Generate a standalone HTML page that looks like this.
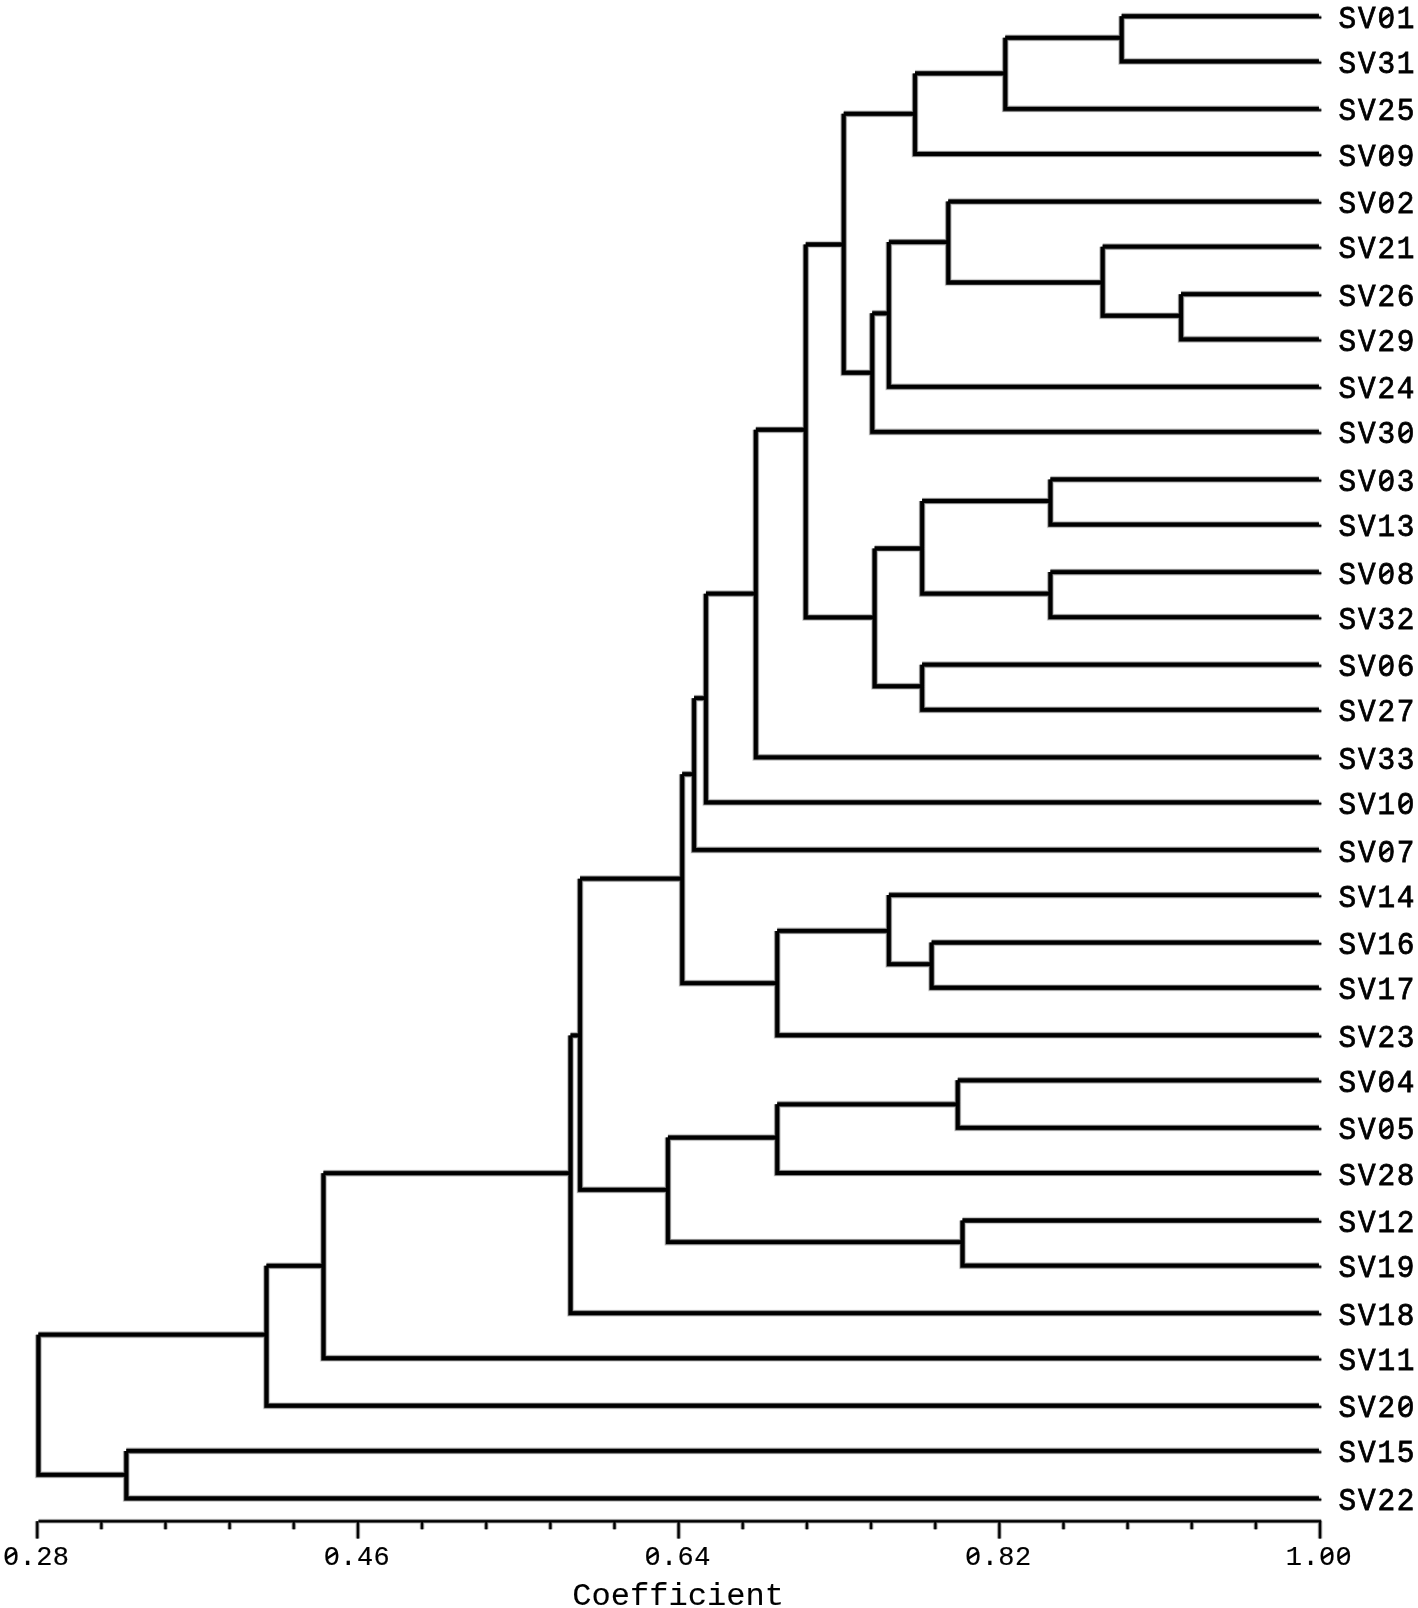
<!DOCTYPE html>
<html><head><meta charset="utf-8"><style>
html,body{margin:0;padding:0;background:#fff;}
body{width:1418px;height:1608px;overflow:hidden;}
svg{display:block;will-change:transform;}
.lab{font-family:"Liberation Mono",monospace;font-size:32px;letter-spacing:1.9px;fill:#000;stroke:#000;stroke-width:0.8px;}
.tl{font-family:"Liberation Mono",monospace;font-size:28.4px;letter-spacing:0.434px;fill:#000;stroke:#000;stroke-width:0.2px;}
.ax{font-family:"Liberation Mono",monospace;font-size:32.1px;fill:#000;stroke:#000;stroke-width:0.1px;}
</style></head><body>
<svg width="1418" height="1608" viewBox="0 0 1418 1608">
<rect width="1418" height="1608" fill="#fff"/>
<g fill="none" stroke="#000" stroke-linejoin="miter" stroke-linecap="butt"><path stroke-opacity="0.08" stroke-width="7.40" d="M1318.90 16.26H1121.68M1121.68 16.26V61.39H1318.90M1121.68 37.84H1005.28M1005.28 37.84V108.89H1318.90M1005.28 73.47H915.01M915.01 73.47V154.02H1318.90M1318.90 294.16H1181.07M1181.07 294.16V339.29H1318.90M1318.90 246.66H1102.68M1102.68 246.66V315.74H1181.07M1318.90 201.53H948.26M948.26 201.53V282.49H1102.68M948.26 242.11H888.87M888.87 242.11V386.80H1318.90M888.87 313.36H872.25M872.25 313.36V431.93H1318.90M915.01 113.84H843.74M843.74 113.84V372.74H872.25M1318.90 479.43H1050.42M1050.42 479.43V524.56H1318.90M1318.90 572.06H1050.42M1050.42 572.06V617.19H1318.90M1050.42 501.01H922.13M922.13 501.01V593.64H1050.42M1318.90 664.70H922.13M922.13 664.70V709.83H1318.90M922.13 548.51H874.62M874.62 548.51V686.27H922.13M843.74 244.48H805.73M805.73 244.48V617.39H874.62M805.73 429.75H755.84M755.84 429.75V757.33H1318.90M755.84 593.64H705.95M705.95 593.64V802.46H1318.90M705.95 698.15H694.08M694.08 698.15V849.97H1318.90M1318.90 942.60H931.64M931.64 942.60V987.73H1318.90M1318.90 895.10H888.87M888.87 895.10V964.18H931.64M888.87 930.92H777.22M777.22 930.92V1035.23H1318.90M694.08 774.16H682.20M682.20 774.16V983.18H777.22M1318.90 1080.36H957.77M957.77 1080.36V1127.87H1318.90M957.77 1104.32H777.22M777.22 1104.32V1173.00H1318.90M1318.90 1220.50H962.52M962.52 1220.50V1265.63H1318.90M777.22 1137.57H667.94M667.94 1137.57V1242.08H962.52M682.20 878.67H580.05M580.05 878.67V1189.82H667.94M580.05 1035.43H570.54M570.54 1035.43V1313.14H1318.90M570.54 1173.20H323.48M323.48 1173.20V1358.26H1318.90M323.48 1265.83H266.47M266.47 1265.83V1405.77H1318.90M1318.90 1450.90H126.31M126.31 1450.90V1498.40H1318.90M266.47 1334.71H38.41M38.41 1334.71V1474.85H126.31"/><path stroke-opacity="0.24" stroke-width="6.20" d="M1318.90 16.26H1121.68M1121.68 16.26V61.39H1318.90M1121.68 37.84H1005.28M1005.28 37.84V108.89H1318.90M1005.28 73.47H915.01M915.01 73.47V154.02H1318.90M1318.90 294.16H1181.07M1181.07 294.16V339.29H1318.90M1318.90 246.66H1102.68M1102.68 246.66V315.74H1181.07M1318.90 201.53H948.26M948.26 201.53V282.49H1102.68M948.26 242.11H888.87M888.87 242.11V386.80H1318.90M888.87 313.36H872.25M872.25 313.36V431.93H1318.90M915.01 113.84H843.74M843.74 113.84V372.74H872.25M1318.90 479.43H1050.42M1050.42 479.43V524.56H1318.90M1318.90 572.06H1050.42M1050.42 572.06V617.19H1318.90M1050.42 501.01H922.13M922.13 501.01V593.64H1050.42M1318.90 664.70H922.13M922.13 664.70V709.83H1318.90M922.13 548.51H874.62M874.62 548.51V686.27H922.13M843.74 244.48H805.73M805.73 244.48V617.39H874.62M805.73 429.75H755.84M755.84 429.75V757.33H1318.90M755.84 593.64H705.95M705.95 593.64V802.46H1318.90M705.95 698.15H694.08M694.08 698.15V849.97H1318.90M1318.90 942.60H931.64M931.64 942.60V987.73H1318.90M1318.90 895.10H888.87M888.87 895.10V964.18H931.64M888.87 930.92H777.22M777.22 930.92V1035.23H1318.90M694.08 774.16H682.20M682.20 774.16V983.18H777.22M1318.90 1080.36H957.77M957.77 1080.36V1127.87H1318.90M957.77 1104.32H777.22M777.22 1104.32V1173.00H1318.90M1318.90 1220.50H962.52M962.52 1220.50V1265.63H1318.90M777.22 1137.57H667.94M667.94 1137.57V1242.08H962.52M682.20 878.67H580.05M580.05 878.67V1189.82H667.94M580.05 1035.43H570.54M570.54 1035.43V1313.14H1318.90M570.54 1173.20H323.48M323.48 1173.20V1358.26H1318.90M323.48 1265.83H266.47M266.47 1265.83V1405.77H1318.90M1318.90 1450.90H126.31M126.31 1450.90V1498.40H1318.90M266.47 1334.71H38.41M38.41 1334.71V1474.85H126.31"/><path stroke-opacity="0.5" stroke-width="5.00" d="M1318.90 16.26H1121.68M1121.68 16.26V61.39H1318.90M1121.68 37.84H1005.28M1005.28 37.84V108.89H1318.90M1005.28 73.47H915.01M915.01 73.47V154.02H1318.90M1318.90 294.16H1181.07M1181.07 294.16V339.29H1318.90M1318.90 246.66H1102.68M1102.68 246.66V315.74H1181.07M1318.90 201.53H948.26M948.26 201.53V282.49H1102.68M948.26 242.11H888.87M888.87 242.11V386.80H1318.90M888.87 313.36H872.25M872.25 313.36V431.93H1318.90M915.01 113.84H843.74M843.74 113.84V372.74H872.25M1318.90 479.43H1050.42M1050.42 479.43V524.56H1318.90M1318.90 572.06H1050.42M1050.42 572.06V617.19H1318.90M1050.42 501.01H922.13M922.13 501.01V593.64H1050.42M1318.90 664.70H922.13M922.13 664.70V709.83H1318.90M922.13 548.51H874.62M874.62 548.51V686.27H922.13M843.74 244.48H805.73M805.73 244.48V617.39H874.62M805.73 429.75H755.84M755.84 429.75V757.33H1318.90M755.84 593.64H705.95M705.95 593.64V802.46H1318.90M705.95 698.15H694.08M694.08 698.15V849.97H1318.90M1318.90 942.60H931.64M931.64 942.60V987.73H1318.90M1318.90 895.10H888.87M888.87 895.10V964.18H931.64M888.87 930.92H777.22M777.22 930.92V1035.23H1318.90M694.08 774.16H682.20M682.20 774.16V983.18H777.22M1318.90 1080.36H957.77M957.77 1080.36V1127.87H1318.90M957.77 1104.32H777.22M777.22 1104.32V1173.00H1318.90M1318.90 1220.50H962.52M962.52 1220.50V1265.63H1318.90M777.22 1137.57H667.94M667.94 1137.57V1242.08H962.52M682.20 878.67H580.05M580.05 878.67V1189.82H667.94M580.05 1035.43H570.54M570.54 1035.43V1313.14H1318.90M570.54 1173.20H323.48M323.48 1173.20V1358.26H1318.90M323.48 1265.83H266.47M266.47 1265.83V1405.77H1318.90M1318.90 1450.90H126.31M126.31 1450.90V1498.40H1318.90M266.47 1334.71H38.41M38.41 1334.71V1474.85H126.31"/><path stroke-width="3.80" d="M1318.90 16.26H1121.68M1121.68 16.26V61.39H1318.90M1121.68 37.84H1005.28M1005.28 37.84V108.89H1318.90M1005.28 73.47H915.01M915.01 73.47V154.02H1318.90M1318.90 294.16H1181.07M1181.07 294.16V339.29H1318.90M1318.90 246.66H1102.68M1102.68 246.66V315.74H1181.07M1318.90 201.53H948.26M948.26 201.53V282.49H1102.68M948.26 242.11H888.87M888.87 242.11V386.80H1318.90M888.87 313.36H872.25M872.25 313.36V431.93H1318.90M915.01 113.84H843.74M843.74 113.84V372.74H872.25M1318.90 479.43H1050.42M1050.42 479.43V524.56H1318.90M1318.90 572.06H1050.42M1050.42 572.06V617.19H1318.90M1050.42 501.01H922.13M922.13 501.01V593.64H1050.42M1318.90 664.70H922.13M922.13 664.70V709.83H1318.90M922.13 548.51H874.62M874.62 548.51V686.27H922.13M843.74 244.48H805.73M805.73 244.48V617.39H874.62M805.73 429.75H755.84M755.84 429.75V757.33H1318.90M755.84 593.64H705.95M705.95 593.64V802.46H1318.90M705.95 698.15H694.08M694.08 698.15V849.97H1318.90M1318.90 942.60H931.64M931.64 942.60V987.73H1318.90M1318.90 895.10H888.87M888.87 895.10V964.18H931.64M888.87 930.92H777.22M777.22 930.92V1035.23H1318.90M694.08 774.16H682.20M682.20 774.16V983.18H777.22M1318.90 1080.36H957.77M957.77 1080.36V1127.87H1318.90M957.77 1104.32H777.22M777.22 1104.32V1173.00H1318.90M1318.90 1220.50H962.52M962.52 1220.50V1265.63H1318.90M777.22 1137.57H667.94M667.94 1137.57V1242.08H962.52M682.20 878.67H580.05M580.05 878.67V1189.82H667.94M580.05 1035.43H570.54M570.54 1035.43V1313.14H1318.90M570.54 1173.20H323.48M323.48 1173.20V1358.26H1318.90M323.48 1265.83H266.47M266.47 1265.83V1405.77H1318.90M1318.90 1450.90H126.31M126.31 1450.90V1498.40H1318.90M266.47 1334.71H38.41M38.41 1334.71V1474.85H126.31"/></g>
<g fill="none" stroke="#000" stroke-linejoin="miter" stroke-linecap="butt"><path stroke-opacity="0.08" stroke-width="5.00" d="M1318.90 17.46H1321.30M1318.90 62.59H1321.30M1318.90 110.09H1321.30M1318.90 155.22H1321.30M1318.90 202.73H1321.30M1318.90 247.86H1321.30M1318.90 295.36H1321.30M1318.90 340.49H1321.30M1318.90 388.00H1321.30M1318.90 433.13H1321.30M1318.90 480.63H1321.30M1318.90 525.76H1321.30M1318.90 573.26H1321.30M1318.90 618.39H1321.30M1318.90 665.90H1321.30M1318.90 711.03H1321.30M1318.90 758.53H1321.30M1318.90 803.66H1321.30M1318.90 851.17H1321.30M1318.90 896.30H1321.30M1318.90 943.80H1321.30M1318.90 988.93H1321.30M1318.90 1036.43H1321.30M1318.90 1081.56H1321.30M1318.90 1129.07H1321.30M1318.90 1174.20H1321.30M1318.90 1221.70H1321.30M1318.90 1266.83H1321.30M1318.90 1314.34H1321.30M1318.90 1359.46H1321.30M1318.90 1406.97H1321.30M1318.90 1452.10H1321.30M1318.90 1499.60H1321.30"/><path stroke-opacity="0.24" stroke-width="3.80" d="M1318.90 17.46H1321.30M1318.90 62.59H1321.30M1318.90 110.09H1321.30M1318.90 155.22H1321.30M1318.90 202.73H1321.30M1318.90 247.86H1321.30M1318.90 295.36H1321.30M1318.90 340.49H1321.30M1318.90 388.00H1321.30M1318.90 433.13H1321.30M1318.90 480.63H1321.30M1318.90 525.76H1321.30M1318.90 573.26H1321.30M1318.90 618.39H1321.30M1318.90 665.90H1321.30M1318.90 711.03H1321.30M1318.90 758.53H1321.30M1318.90 803.66H1321.30M1318.90 851.17H1321.30M1318.90 896.30H1321.30M1318.90 943.80H1321.30M1318.90 988.93H1321.30M1318.90 1036.43H1321.30M1318.90 1081.56H1321.30M1318.90 1129.07H1321.30M1318.90 1174.20H1321.30M1318.90 1221.70H1321.30M1318.90 1266.83H1321.30M1318.90 1314.34H1321.30M1318.90 1359.46H1321.30M1318.90 1406.97H1321.30M1318.90 1452.10H1321.30M1318.90 1499.60H1321.30"/><path stroke-opacity="0.5" stroke-width="2.60" d="M1318.90 17.46H1321.30M1318.90 62.59H1321.30M1318.90 110.09H1321.30M1318.90 155.22H1321.30M1318.90 202.73H1321.30M1318.90 247.86H1321.30M1318.90 295.36H1321.30M1318.90 340.49H1321.30M1318.90 388.00H1321.30M1318.90 433.13H1321.30M1318.90 480.63H1321.30M1318.90 525.76H1321.30M1318.90 573.26H1321.30M1318.90 618.39H1321.30M1318.90 665.90H1321.30M1318.90 711.03H1321.30M1318.90 758.53H1321.30M1318.90 803.66H1321.30M1318.90 851.17H1321.30M1318.90 896.30H1321.30M1318.90 943.80H1321.30M1318.90 988.93H1321.30M1318.90 1036.43H1321.30M1318.90 1081.56H1321.30M1318.90 1129.07H1321.30M1318.90 1174.20H1321.30M1318.90 1221.70H1321.30M1318.90 1266.83H1321.30M1318.90 1314.34H1321.30M1318.90 1359.46H1321.30M1318.90 1406.97H1321.30M1318.90 1452.10H1321.30M1318.90 1499.60H1321.30"/><path stroke-width="1.40" d="M1318.90 17.46H1321.30M1318.90 62.59H1321.30M1318.90 110.09H1321.30M1318.90 155.22H1321.30M1318.90 202.73H1321.30M1318.90 247.86H1321.30M1318.90 295.36H1321.30M1318.90 340.49H1321.30M1318.90 388.00H1321.30M1318.90 433.13H1321.30M1318.90 480.63H1321.30M1318.90 525.76H1321.30M1318.90 573.26H1321.30M1318.90 618.39H1321.30M1318.90 665.90H1321.30M1318.90 711.03H1321.30M1318.90 758.53H1321.30M1318.90 803.66H1321.30M1318.90 851.17H1321.30M1318.90 896.30H1321.30M1318.90 943.80H1321.30M1318.90 988.93H1321.30M1318.90 1036.43H1321.30M1318.90 1081.56H1321.30M1318.90 1129.07H1321.30M1318.90 1174.20H1321.30M1318.90 1221.70H1321.30M1318.90 1266.83H1321.30M1318.90 1314.34H1321.30M1318.90 1359.46H1321.30M1318.90 1406.97H1321.30M1318.90 1452.10H1321.30M1318.90 1499.60H1321.30"/></g>
<g fill="none" stroke="#000" stroke-linejoin="miter" stroke-linecap="butt"><path stroke-opacity="0.08" stroke-width="5.50" d="M38.52 1521.2H1321.24M37.22 1521.2V1538.4M101.36 1521.2V1529.3M165.50 1521.2V1529.3M229.64 1521.2V1529.3M293.78 1521.2V1529.3M357.93 1521.2V1538.4M422.07 1521.2V1529.3M486.21 1521.2V1529.3M550.35 1521.2V1529.3M614.49 1521.2V1529.3M678.63 1521.2V1538.4M742.77 1521.2V1529.3M806.91 1521.2V1529.3M871.06 1521.2V1529.3M935.20 1521.2V1529.3M999.34 1521.2V1538.4M1063.48 1521.2V1529.3M1127.62 1521.2V1529.3M1191.76 1521.2V1529.3M1255.90 1521.2V1529.3M1320.04 1521.2V1538.4"/><path stroke-opacity="0.24" stroke-width="4.30" d="M38.52 1521.2H1321.24M37.22 1521.2V1538.4M101.36 1521.2V1529.3M165.50 1521.2V1529.3M229.64 1521.2V1529.3M293.78 1521.2V1529.3M357.93 1521.2V1538.4M422.07 1521.2V1529.3M486.21 1521.2V1529.3M550.35 1521.2V1529.3M614.49 1521.2V1529.3M678.63 1521.2V1538.4M742.77 1521.2V1529.3M806.91 1521.2V1529.3M871.06 1521.2V1529.3M935.20 1521.2V1529.3M999.34 1521.2V1538.4M1063.48 1521.2V1529.3M1127.62 1521.2V1529.3M1191.76 1521.2V1529.3M1255.90 1521.2V1529.3M1320.04 1521.2V1538.4"/><path stroke-opacity="0.5" stroke-width="3.10" d="M38.52 1521.2H1321.24M37.22 1521.2V1538.4M101.36 1521.2V1529.3M165.50 1521.2V1529.3M229.64 1521.2V1529.3M293.78 1521.2V1529.3M357.93 1521.2V1538.4M422.07 1521.2V1529.3M486.21 1521.2V1529.3M550.35 1521.2V1529.3M614.49 1521.2V1529.3M678.63 1521.2V1538.4M742.77 1521.2V1529.3M806.91 1521.2V1529.3M871.06 1521.2V1529.3M935.20 1521.2V1529.3M999.34 1521.2V1538.4M1063.48 1521.2V1529.3M1127.62 1521.2V1529.3M1191.76 1521.2V1529.3M1255.90 1521.2V1529.3M1320.04 1521.2V1538.4"/><path stroke-width="1.90" d="M38.52 1521.2H1321.24M37.22 1521.2V1538.4M101.36 1521.2V1529.3M165.50 1521.2V1529.3M229.64 1521.2V1529.3M293.78 1521.2V1529.3M357.93 1521.2V1538.4M422.07 1521.2V1529.3M486.21 1521.2V1529.3M550.35 1521.2V1529.3M614.49 1521.2V1529.3M678.63 1521.2V1538.4M742.77 1521.2V1529.3M806.91 1521.2V1529.3M871.06 1521.2V1529.3M935.20 1521.2V1529.3M999.34 1521.2V1538.4M1063.48 1521.2V1529.3M1127.62 1521.2V1529.3M1191.76 1521.2V1529.3M1255.90 1521.2V1529.3M1320.04 1521.2V1538.4"/></g>
<g class="lab">
<text transform="translate(1338.6,27.8) scale(0.92,1)">SV01</text>
<text transform="translate(1338.6,72.9) scale(0.92,1)">SV31</text>
<text transform="translate(1338.6,120.4) scale(0.92,1)">SV25</text>
<text transform="translate(1338.6,165.5) scale(0.92,1)">SV09</text>
<text transform="translate(1338.6,213.0) scale(0.92,1)">SV02</text>
<text transform="translate(1338.6,258.2) scale(0.92,1)">SV21</text>
<text transform="translate(1338.6,305.7) scale(0.92,1)">SV26</text>
<text transform="translate(1338.6,350.8) scale(0.92,1)">SV29</text>
<text transform="translate(1338.6,398.3) scale(0.92,1)">SV24</text>
<text transform="translate(1338.6,443.4) scale(0.92,1)">SV30</text>
<text transform="translate(1338.6,490.9) scale(0.92,1)">SV03</text>
<text transform="translate(1338.6,536.1) scale(0.92,1)">SV13</text>
<text transform="translate(1338.6,583.6) scale(0.92,1)">SV08</text>
<text transform="translate(1338.6,628.7) scale(0.92,1)">SV32</text>
<text transform="translate(1338.6,676.2) scale(0.92,1)">SV06</text>
<text transform="translate(1338.6,721.3) scale(0.92,1)">SV27</text>
<text transform="translate(1338.6,768.8) scale(0.92,1)">SV33</text>
<text transform="translate(1338.6,814.0) scale(0.92,1)">SV10</text>
<text transform="translate(1338.6,861.5) scale(0.92,1)">SV07</text>
<text transform="translate(1338.6,906.6) scale(0.92,1)">SV14</text>
<text transform="translate(1338.6,954.1) scale(0.92,1)">SV16</text>
<text transform="translate(1338.6,999.2) scale(0.92,1)">SV17</text>
<text transform="translate(1338.6,1046.7) scale(0.92,1)">SV23</text>
<text transform="translate(1338.6,1091.9) scale(0.92,1)">SV04</text>
<text transform="translate(1338.6,1139.4) scale(0.92,1)">SV05</text>
<text transform="translate(1338.6,1184.5) scale(0.92,1)">SV28</text>
<text transform="translate(1338.6,1232.0) scale(0.92,1)">SV12</text>
<text transform="translate(1338.6,1277.1) scale(0.92,1)">SV19</text>
<text transform="translate(1338.6,1324.6) scale(0.92,1)">SV18</text>
<text transform="translate(1338.6,1369.8) scale(0.92,1)">SV11</text>
<text transform="translate(1338.6,1417.3) scale(0.92,1)">SV20</text>
<text transform="translate(1338.6,1462.4) scale(0.92,1)">SV15</text>
<text transform="translate(1338.6,1509.9) scale(0.92,1)">SV22</text>
</g>
<g class="tl">
<text transform="translate(3.0,1565.2) scale(0.95,1)">0.28</text>
<text transform="translate(323.7,1565.2) scale(0.95,1)">0.46</text>
<text transform="translate(644.4,1565.2) scale(0.95,1)">0.64</text>
<text transform="translate(965.1,1565.2) scale(0.95,1)">0.82</text>
<text transform="translate(1285.8,1565.2) scale(0.95,1)">1.00</text>
</g>
<text class="ax" x="572.2" y="1605">Coefficient</text>
<g><g transform="translate(1338.6,27.8) scale(0.92,1)"><rect x="48.00" y="-14.50" width="8.00" height="6.50" fill="#fff"/></g><g transform="translate(1338.6,165.5) scale(0.92,1)"><rect x="48.00" y="-14.50" width="8.00" height="6.50" fill="#fff"/></g><g transform="translate(1338.6,213.0) scale(0.92,1)"><rect x="48.00" y="-14.50" width="8.00" height="6.50" fill="#fff"/></g><g transform="translate(1338.6,443.4) scale(0.92,1)"><rect x="69.10" y="-14.50" width="8.00" height="6.50" fill="#fff"/></g><g transform="translate(1338.6,490.9) scale(0.92,1)"><rect x="48.00" y="-14.50" width="8.00" height="6.50" fill="#fff"/></g><g transform="translate(1338.6,583.6) scale(0.92,1)"><rect x="48.00" y="-14.50" width="8.00" height="6.50" fill="#fff"/></g><g transform="translate(1338.6,676.2) scale(0.92,1)"><rect x="48.00" y="-14.50" width="8.00" height="6.50" fill="#fff"/></g><g transform="translate(1338.6,814.0) scale(0.92,1)"><rect x="69.10" y="-14.50" width="8.00" height="6.50" fill="#fff"/></g><g transform="translate(1338.6,861.5) scale(0.92,1)"><rect x="48.00" y="-14.50" width="8.00" height="6.50" fill="#fff"/></g><g transform="translate(1338.6,1091.9) scale(0.92,1)"><rect x="48.00" y="-14.50" width="8.00" height="6.50" fill="#fff"/></g><g transform="translate(1338.6,1139.4) scale(0.92,1)"><rect x="48.00" y="-14.50" width="8.00" height="6.50" fill="#fff"/></g><g transform="translate(1338.6,1417.3) scale(0.92,1)"><rect x="69.10" y="-14.50" width="8.00" height="6.50" fill="#fff"/></g><g transform="translate(3.0,1565.2) scale(0.95,1)"><rect x="5.15" y="-12.87" width="7.10" height="5.77" fill="#fff"/></g><g transform="translate(323.7,1565.2) scale(0.95,1)"><rect x="5.15" y="-12.87" width="7.10" height="5.77" fill="#fff"/></g><g transform="translate(644.4,1565.2) scale(0.95,1)"><rect x="5.15" y="-12.87" width="7.10" height="5.77" fill="#fff"/></g><g transform="translate(965.1,1565.2) scale(0.95,1)"><rect x="5.15" y="-12.87" width="7.10" height="5.77" fill="#fff"/></g><g transform="translate(1285.8,1565.2) scale(0.95,1)"><rect x="40.09" y="-12.87" width="7.10" height="5.77" fill="#fff"/></g><g transform="translate(1285.8,1565.2) scale(0.95,1)"><rect x="57.57" y="-12.87" width="7.10" height="5.77" fill="#fff"/></g></g>
<g fill="none" stroke="#000" stroke-width="3.0" stroke-linecap="butt"><g transform="translate(1338.6,27.8) scale(0.92,1)"><path d="M46.60 -7.00L55.60 -13.40"/></g><g transform="translate(1338.6,165.5) scale(0.92,1)"><path d="M46.60 -7.00L55.60 -13.40"/></g><g transform="translate(1338.6,213.0) scale(0.92,1)"><path d="M46.60 -7.00L55.60 -13.40"/></g><g transform="translate(1338.6,443.4) scale(0.92,1)"><path d="M67.70 -7.00L76.70 -13.40"/></g><g transform="translate(1338.6,490.9) scale(0.92,1)"><path d="M46.60 -7.00L55.60 -13.40"/></g><g transform="translate(1338.6,583.6) scale(0.92,1)"><path d="M46.60 -7.00L55.60 -13.40"/></g><g transform="translate(1338.6,676.2) scale(0.92,1)"><path d="M46.60 -7.00L55.60 -13.40"/></g><g transform="translate(1338.6,814.0) scale(0.92,1)"><path d="M67.70 -7.00L76.70 -13.40"/></g><g transform="translate(1338.6,861.5) scale(0.92,1)"><path d="M46.60 -7.00L55.60 -13.40"/></g><g transform="translate(1338.6,1091.9) scale(0.92,1)"><path d="M46.60 -7.00L55.60 -13.40"/></g><g transform="translate(1338.6,1139.4) scale(0.92,1)"><path d="M46.60 -7.00L55.60 -13.40"/></g><g transform="translate(1338.6,1417.3) scale(0.92,1)"><path d="M67.70 -7.00L76.70 -13.40"/></g></g>
<g fill="none" stroke="#000" stroke-width="2.5" stroke-linecap="butt"><g transform="translate(3.0,1565.2) scale(0.95,1)"><path d="M3.02 -6.39L13.84 -13.13"/></g><g transform="translate(323.7,1565.2) scale(0.95,1)"><path d="M3.02 -6.39L13.84 -13.13"/></g><g transform="translate(644.4,1565.2) scale(0.95,1)"><path d="M3.02 -6.39L13.84 -13.13"/></g><g transform="translate(965.1,1565.2) scale(0.95,1)"><path d="M3.02 -6.39L13.84 -13.13"/></g><g transform="translate(1285.8,1565.2) scale(0.95,1)"><path d="M37.96 -6.39L48.79 -13.13"/></g><g transform="translate(1285.8,1565.2) scale(0.95,1)"><path d="M55.44 -6.39L66.27 -13.13"/></g></g>
</svg>
</body></html>
